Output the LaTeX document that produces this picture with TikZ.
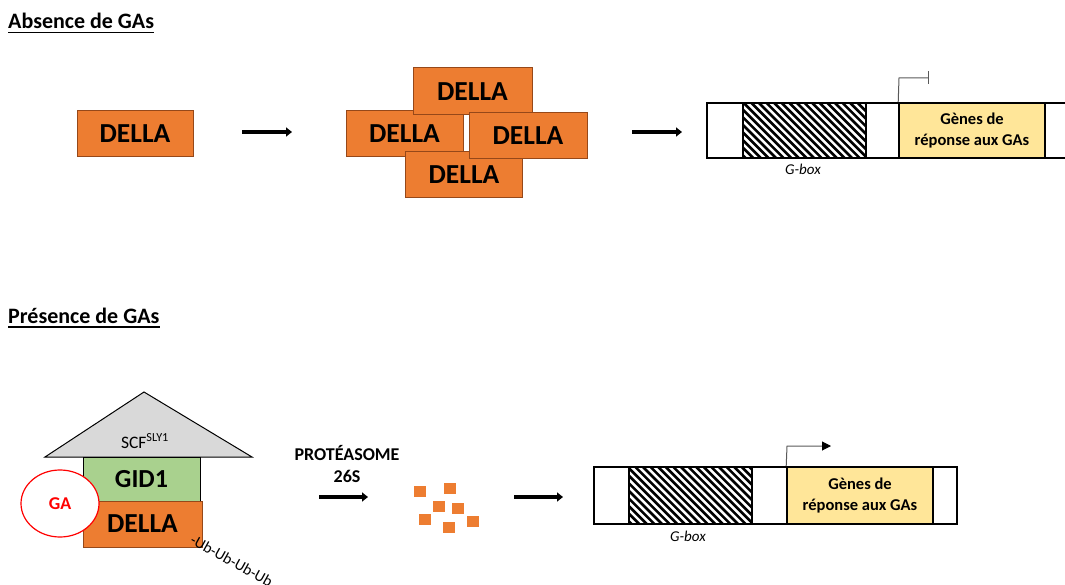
\documentclass[tikz,border=0pt]{standalone}
\usepackage{fontspec}
\setmainfont{Carlito}
\usetikzlibrary{arrows.meta,shapes.geometric}
\definecolor{dorange}{RGB}{237,125,49}
\definecolor{dborder}{RGB}{150,72,25}
\definecolor{gyellow}{RGB}{255,230,153}
\definecolor{ggreen}{RGB}{169,209,142}
\definecolor{sgray}{RGB}{217,217,217}
\begin{document}
\begin{tikzpicture}[x=1pt,y=-1pt,
  della/.style={draw=dborder, line width=1pt, fill=dorange, minimum width=117pt, minimum height=46pt, inner sep=0pt, font=\fontsize{27.5}{30}\selectfont\bfseries},
  titletext/.style={anchor=base west, inner sep=0pt, font=\fontsize{22}{26}\selectfont\bfseries},
  bigarrow/.style={line width=4.5pt, -{Triangle[length=6pt,width=9pt]}},
  outerbox/.style={draw, line width=1.1pt, fill=white},
  hatchbox/.style={draw, line width=1.3pt, minimum height=55pt, inner sep=0pt},
  genebox/.style={draw, line width=1.6pt, fill=gyellow, minimum height=55pt, inner sep=0pt, align=center, font=\fontsize{16.5}{21}\selectfont\bfseries},
  gboxlabel/.style={inner sep=0pt, font=\fontsize{15}{18}\selectfont\itshape},
  frag/.style={fill=dorange, minimum width=12pt, minimum height=11pt, inner sep=0pt},
  promoter/.style={draw=gray!70!black, line width=1pt}
]
\useasboundingbox (0,0) rectangle (1065,585);

% ---------- Absence de GAs ----------
\node[titletext] (t1) at (8,29) {Absence de GAs};
\draw[line width=1.6pt] ([yshift=-3.5pt]t1.base west) -- ([yshift=-3.5pt]t1.base east);

\node[della, minimum width=116pt] (d0) at (135,134) {DELLA};

\coordinate (a1s) at (242,132);
\coordinate (a1e) at (292,132);
\draw[bigarrow] (a1s) -- (a1e);

\node[della] (dl) at (404.5,133.5) {DELLA};
\node[della] (db) at (464,175) {DELLA};
\node[della, minimum width=119pt, minimum height=47pt] (dt) at (472.5,91.5) {DELLA};
\node[della, minimum width=118pt] (dr) at (528,136) {DELLA};

\coordinate (a2s) at (632,132);
\coordinate (a2e) at (682,132);
\draw[bigarrow] (a2s) -- (a2e);

\draw[outerbox] (707,103) rectangle (1080,158);
\begin{scope}
  \clip (743,103) rectangle (866,158);
  \foreach \i in {0,...,25} \draw[line width=2.6pt] ({743-60+\i*7.6},103) -- ++(55,55);
\end{scope}
\node[hatchbox, minimum width=123pt] (h1) at (804.5,130.5) {};
\node[genebox, minimum width=146pt] (g1) at (972,130.5) {Gènes de\\réponse aux GAs};
\node[gboxlabel] (gb1) at (803,169) {G-box};
\coordinate (p1a) at (899,78);
\coordinate (p1b) at (928,78);
\draw[promoter] (g1.north west) -- (p1a) -- (p1b);
\draw[promoter] ([yshift=6.5pt]p1b) -- ([yshift=-6.5pt]p1b);

% ---------- Présence de GAs ----------
\node[titletext] (t2) at (8,323) {Présence de GAs};
\draw[line width=1.6pt] ([yshift=-4pt]t2.base west) -- ([yshift=-4pt]t2.base east);

\draw[line width=1pt, fill=sgray] (45,457) coordinate (tl) -- (144,392) coordinate (tap) -- (252,457) coordinate (tr) -- cycle;
\node[inner sep=0pt, font=\fontsize{17.5}{20}\selectfont] (scf) at (145,441) {SCF\textsuperscript{SLY1}};

\node[draw, line width=1pt, fill=ggreen, minimum width=117pt, minimum height=44pt, inner sep=0pt, font=\fontsize{26}{30}\selectfont\bfseries] (gid) at (141.5,479) {GID1};
\node[della, minimum width=119pt] (d2) at (142.5,524) {DELLA};
\node[ellipse, draw=red, line width=1.2pt, fill=white, minimum width=78pt, minimum height=67pt, inner sep=0pt, text=red, font=\fontsize{18}{20}\selectfont\bfseries] (ga) at (60,503.5) {GA};
\node[rotate=-29, anchor=base west, inner sep=0pt, font=\fontsize{15.5}{18}\selectfont] (ub) at (189,543) {-Ub-Ub-Ub-Ub};

\node[align=center, inner sep=0pt, font=\fontsize{18}{22}\selectfont\bfseries] (prot) at (347,464) {PROTÉASOME\\26S};
\coordinate (a3s) at (319,497);
\coordinate (a3e) at (368,497);
\draw[bigarrow] (a3s) -- (a3e);

\node[frag] (f1) at (420,491) {};
\node[frag] (f2) at (450,488) {};
\node[frag] (f3) at (439,506) {};
\node[frag] (f4) at (458,508) {};
\node[frag] (f5) at (425,519) {};
\node[frag] (f6) at (473,521) {};
\node[frag] (f7) at (449,527) {};

\coordinate (a4s) at (514,497);
\coordinate (a4e) at (563,497);
\draw[bigarrow] (a4s) -- (a4e);

\draw[outerbox] (594,467) rectangle (957,524);
\begin{scope}
  \clip (629,467) rectangle (752,524);
  \foreach \i in {0,...,25} \draw[line width=2.6pt] ({629-62+\i*7.6},467) -- ++(57,57);
\end{scope}
\node[hatchbox, minimum width=123pt, minimum height=57pt] (h2) at (690.5,495.5) {};
\node[genebox, minimum width=146pt, minimum height=57pt] (g2) at (860,495.5) {Gènes de\\réponse aux GAs};
\node[gboxlabel] (gb2) at (688,536) {G-box};
\coordinate (p2a) at (787,446);
\coordinate (p2b) at (831,446);
\draw[promoter, -{Triangle[length=9pt,width=9pt,black]}] (g2.north west) -- (p2a) -- (p2b);
\end{tikzpicture}
\end{document}
